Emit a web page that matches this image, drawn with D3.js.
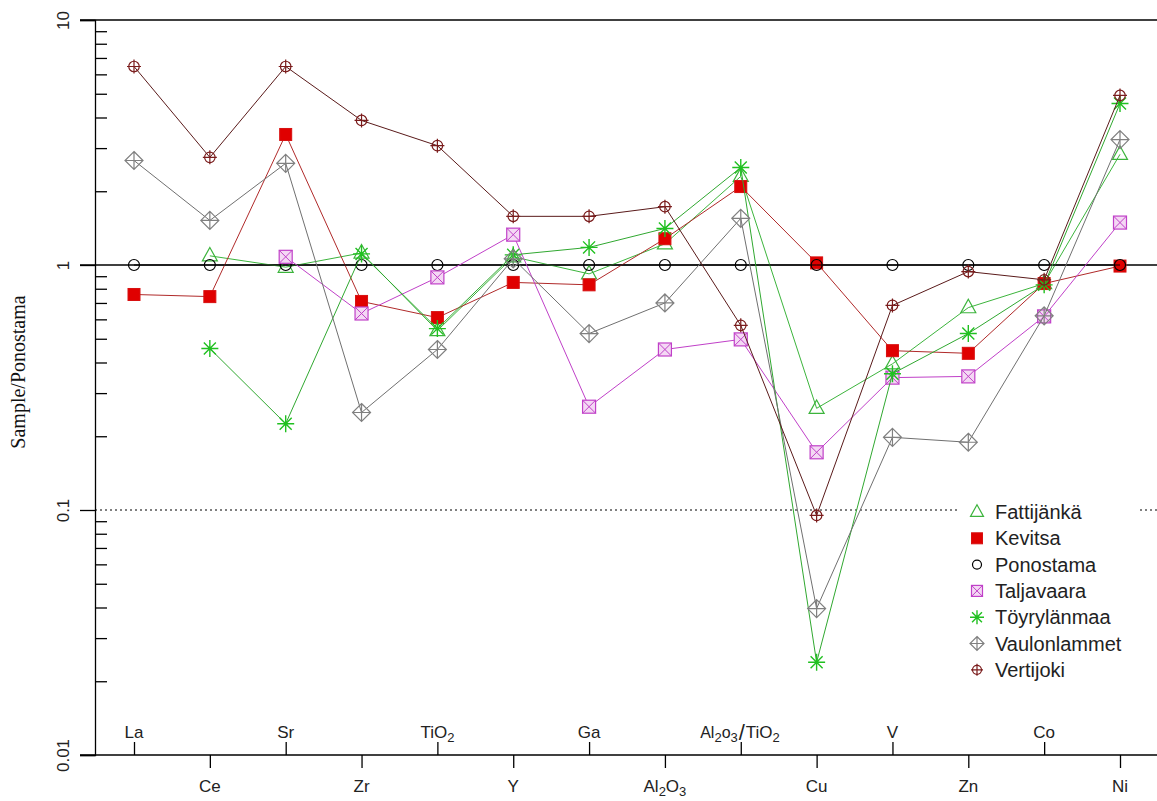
<!DOCTYPE html>
<html>
<head>
<meta charset="utf-8">
<script src="https://cdn.jsdelivr.net/npm/d3@7"></script>
<style>
  body { margin: 0; background: #fff; }
  svg { display: block; }
</style>
</head>
<body>
<div id="chart"></div>
<script>
// elements along the x axis (spider diagram normalised to Ponostama)
const elements = ['La', 'Ce', 'Sr', 'Zr', 'TiO2', 'Y', 'Ga', 'Al2O3', 'Al2O3/TiO2', 'Cu', 'V', 'Zn', 'Co', 'Ni']
const upperRow = ['La', 'Sr', 'TiO2', 'Ga', 'Al2O3/TiO2', 'V', 'Co']
const lowerRow = ['Ce', 'Zr', 'Y', 'Al2O3', 'Cu', 'Zn', 'Ni']

const fattijanka   = [null, 1.09, 0.98, 1.12, 0.54, 1.08, 0.92, 1.22, 2.3, 0.26, 0.395, 0.67, 0.84, 2.83]
const kevitsa      = [0.758, 0.743, 3.41, 0.71, 0.61, 0.849, 0.83, 1.28, 2.09, 1.02, 0.447, 0.436, 0.84, 0.99]
const ponostama    = [1, 1, 1, 1, 1, 1, 1, 1, 1, 1, 1, 1, 1, 1]
const taljavaara   = [null, null, 1.08, 0.634, 0.89, 1.33, 0.264, 0.452, 0.497, 0.172, 0.347, 0.351, 0.617, 1.49]
const toyrylanmaa  = [null, 0.456, 0.225, 1.11, 0.55, 1.10, 1.18, 1.41, 2.50, 0.0239, 0.36, 0.525, 0.83, 4.56]
const vaulonlammet = [2.67, 1.52, 2.60, 0.25, 0.452, 1.06, 0.525, 0.70, 1.55, 0.0396, 0.198, 0.189, 0.62, 3.25]
const vertijoki    = [6.46, 2.75, 6.46, 3.89, 3.07, 1.58, 1.58, 1.73, 0.567, 0.095, 0.684, 0.94, 0.87, 4.92]

const seriesNames = ['Fattijänkä', 'Kevitsa', 'Ponostama', 'Taljavaara', 'Töyrylänmaa', 'Vaulonlammet', 'Vertijoki']
const seriesValues = [fattijanka, kevitsa, ponostama, taljavaara, toyrylanmaa, vaulonlammet, vertijoki]
const yTicks = [0.01, 0.1, 1, 10]

const style = {
  'Fattijänkä':   { shape: 'triangle', line: '#3cb43c', stroke: '#3cb43c', fill: 'none' },
  'Kevitsa':      { shape: 'square',   line: '#b02a2a', stroke: '#d81010', fill: '#e00000' },
  'Ponostama':    { shape: 'circle',   line: '#000',    stroke: '#000',    fill: 'none' },
  'Taljavaara':   { shape: 'xsquare',  line: '#c040c8', stroke: '#c040c8', fill: '#f4d8f4' },
  'Töyrylänmaa':  { shape: 'star',     line: '#30a830', stroke: '#20c020', fill: 'none' },
  'Vaulonlammet': { shape: 'diamond',  line: '#707070', stroke: '#808080', fill: 'none' },
  'Vertijoki':    { shape: 'cplus',    line: '#5a1a1a', stroke: '#7a1c1c', fill: 'none' }
}

const width = 1157, height = 801
const left = 95, plotTop = 20, plotBottom = 755

let svg = d3.select('#chart')
.append('svg')
.attr('width', width)
.attr('height', height)
.style('font-family', 'Arial, "Liberation Sans", sans-serif')

let xScale = d3.scalePoint()
.domain(elements)
.range([134, 1120])

let yScale = d3.scaleLog()
.domain([0.01, 10])
.range([plotBottom, plotTop])

// reference lines
;[10, 1].forEach(v => {
  svg.append('line')
  .attr('x1', 80).attr('x2', width)
  .attr('y1', yScale(v)).attr('y2', yScale(v))
  .attr('stroke', '#000').attr('stroke-width', 1.3)
})
svg.append('line')
.attr('x1', left).attr('x2', width)
.attr('y1', yScale(0.1)).attr('y2', yScale(0.1))
.attr('stroke', '#000').attr('stroke-width', 1.2)
.attr('stroke-dasharray', '2,3')

// y axis, major ticks outside
let yAxis = svg.append('g')
.attr('transform', `translate(${left},0)`)
.call(d3.axisLeft(yScale).tickValues(yTicks).tickSize(15).tickFormat(d => String(d)))
yAxis.select('.domain').attr('stroke', '#000').attr('stroke-width', 1.3)
yAxis.selectAll('line').attr('stroke', '#000').attr('stroke-width', 1.3)
yAxis.selectAll('text')
.attr('x', null).attr('dy', null).attr('y', 0)
.attr('text-anchor', 'middle')
.attr('transform', 'translate(-26,0) rotate(-90)')
.style('font-size', '17px')
.attr('fill', '#222')

// minor ticks inside
let minor = []
;[0.01, 0.1, 1].forEach(dec => {
  for (let k = 2; k <= 9; k++) minor.push(dec * k)
})
let yMinor = svg.append('g')
.attr('transform', `translate(${left},0)`)
.call(d3.axisRight(yScale).tickValues(minor).tickSize(12).tickFormat(''))
yMinor.select('.domain').remove()
yMinor.selectAll('line').attr('stroke', '#000').attr('stroke-width', 1.3)

svg.append('text')
.attr('transform', `translate(25,372) rotate(-90)`)
.attr('text-anchor', 'middle')
.style('font-family', '"Liberation Serif", "Times New Roman", serif')
.style('font-size', '20px')
.attr('fill', '#111')
.text('Sample/Ponostama')

// x axis
svg.append('line')
.attr('x1', 80).attr('x2', width)
.attr('y1', plotBottom).attr('y2', plotBottom)
.attr('stroke', '#000').attr('stroke-width', 1.3)

let xTop = svg.append('g')
.attr('transform', `translate(0,${plotBottom})`)
.call(d3.axisTop(xScale).tickValues(upperRow).tickSize(13).tickFormat(''))
let xBottom = svg.append('g')
.attr('transform', `translate(0,${plotBottom})`)
.call(d3.axisBottom(xScale).tickValues(lowerRow).tickSize(13).tickFormat(''))
xTop.select('.domain').remove()
xBottom.select('.domain').remove()
svg.selectAll('.tick line').attr('stroke', '#000').attr('stroke-width', 1.3)

function chemLabel(g, name) {
  // write formula with subscript digits
  let parts = name.match(/[A-Za-z]+|\d+/g)
  parts.forEach(p => {
    if (/\d/.test(p)) {
      g.append('tspan').attr('baseline-shift', '-28%').style('font-size', '13px').text(p)
    } else {
      g.append('tspan').text(p)
    }
  })
}

function addLabel(name, y) {
  let x = xScale(name)
  if (name === 'Al2O3/TiO2') {
    let a = svg.append('text').attr('x', x - 3).attr('y', y).attr('text-anchor', 'end')
    .style('font-size', '16px').attr('fill', '#222')
    chemLabel(a, 'Al2o3')
    svg.append('text').attr('x', x + 1).attr('y', y + 2).attr('text-anchor', 'middle')
    .style('font-size', '22px').attr('fill', '#222').text('/')
    let b = svg.append('text').attr('x', x + 5).attr('y', y).attr('text-anchor', 'start')
    .style('font-size', '17px').attr('fill', '#222')
    chemLabel(b, 'TiO2')
    return
  }
  let t = svg.append('text').attr('x', x).attr('y', y).attr('text-anchor', 'middle')
  .style('font-size', '17px').attr('fill', '#222')
  chemLabel(t, name)
}
upperRow.forEach(n => addLabel(n, 738))
lowerRow.forEach(n => addLabel(n, 792))

// symbols
function drawSymbol(g, shape, x, y, s, st) {
  const sw = 1.2
  if (shape === 'triangle') {
    let h = s * 0.9
    g.append('path')
    .attr('d', `M${x},${y - h * 0.62} L${x + s / 2},${y + h * 0.38} L${x - s / 2},${y + h * 0.38} Z`)
    .attr('fill', 'none').attr('stroke', st.stroke).attr('stroke-width', sw)
  } else if (shape === 'square') {
    g.append('rect').attr('x', x - s / 2).attr('y', y - s / 2).attr('width', s).attr('height', s)
    .attr('fill', st.fill).attr('stroke', st.stroke).attr('stroke-width', 1)
  } else if (shape === 'circle') {
    g.append('circle').attr('cx', x).attr('cy', y).attr('r', s / 2)
    .attr('fill', 'none').attr('stroke', st.stroke).attr('stroke-width', sw)
  } else if (shape === 'xsquare') {
    g.append('rect').attr('x', x - s / 2).attr('y', y - s / 2).attr('width', s).attr('height', s)
    .attr('fill', st.fill).attr('stroke', st.stroke).attr('stroke-width', sw)
    g.append('path')
    .attr('d', `M${x - s / 2},${y - s / 2} L${x + s / 2},${y + s / 2} M${x + s / 2},${y - s / 2} L${x - s / 2},${y + s / 2}`)
    .attr('stroke', st.stroke).attr('stroke-width', 1)
  } else if (shape === 'star') {
    let r = s / 2, d = ''
    for (let k = 0; k < 4; k++) {
      let a = k * Math.PI / 4
      d += `M${x - r * Math.cos(a)},${y - r * Math.sin(a)} L${x + r * Math.cos(a)},${y + r * Math.sin(a)} `
    }
    g.append('path').attr('d', d).attr('stroke', st.stroke).attr('stroke-width', 1.4)
  } else if (shape === 'diamond') {
    let r = s / 2
    g.append('path')
    .attr('d', `M${x},${y - r} L${x + r},${y} L${x},${y + r} L${x - r},${y} Z M${x},${y - r} L${x},${y + r} M${x - r},${y} L${x + r},${y}`)
    .attr('fill', 'none').attr('stroke', st.stroke).attr('stroke-width', sw)
  } else if (shape === 'cplus') {
    let r = s / 2
    g.append('circle').attr('cx', x).attr('cy', y).attr('r', r * 0.75)
    .attr('fill', 'none').attr('stroke', st.stroke).attr('stroke-width', sw)
    g.append('path')
    .attr('d', `M${x},${y - r} L${x},${y + r} M${x - r},${y} L${x + r},${y}`)
    .attr('stroke', st.stroke).attr('stroke-width', sw)
  }
}

const sizes = { triangle: 15, square: 12, circle: 11, xsquare: 13, star: 17, diamond: 18, cplus: 14 }
const legendSizes = { triangle: 13, square: 11, circle: 9, xsquare: 11, star: 14, diamond: 14, cplus: 12 }

let lineFunc = d3.line()
.defined(d => d.v != null)
.x(d => xScale(d.el))
.y(d => yScale(d.v))

seriesNames.forEach((name, i) => {
  const st = style[name]
  const pts = elements.map((el, j) => ({ el: el, v: seriesValues[i][j] }))
  let g = svg.append('g').attr('class', 'series')
  g.append('path')
  .attr('d', lineFunc(pts))
  .attr('fill', 'none')
  .attr('stroke', st.line)
  .attr('stroke-width', 1)
  pts.filter(p => p.v != null).forEach(p => {
    drawSymbol(g, st.shape, xScale(p.el), yScale(p.v), sizes[st.shape], st)
  })
})

// legend
let legend = svg.append('g')
legend.append('rect')
.attr('x', 960).attr('y', 497).attr('width', 178).attr('height', 188)
.attr('fill', '#fff')
seriesNames.forEach((name, i) => {
  const st = style[name]
  let y = 512 + i * 26.3
  drawSymbol(legend, st.shape, 977, y, legendSizes[st.shape], st)
  legend.append('text')
  .attr('x', 995).attr('y', y + 7)
  .style('font-size', '20px')
  .attr('fill', '#222')
  .text(name)
})
</script>
</body>
</html>
